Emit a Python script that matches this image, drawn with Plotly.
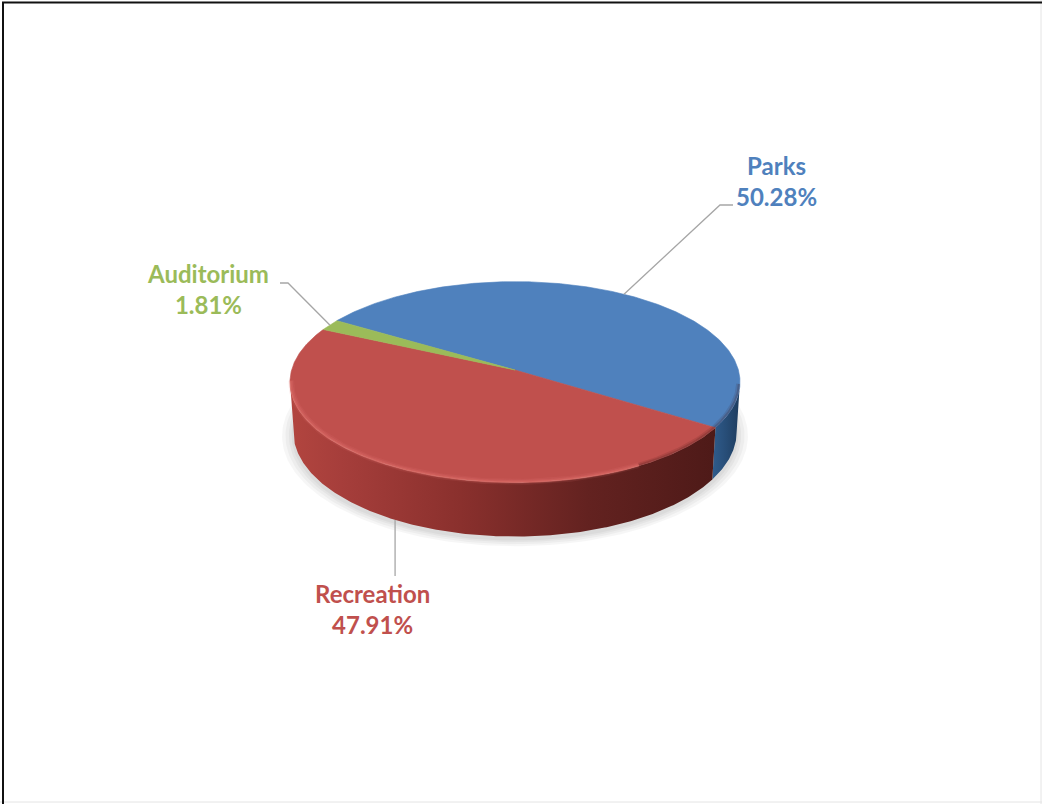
import numpy as np
import plotly.graph_objects as go

# ---- data -------------------------------------------------------------
categories = ["Parks", "Recreation", "Auditorium"]
shares = [50.28, 47.91, 1.81]
top_colors = ["#4F81BD", "#C0504D", "#9BBB59"]
label_colors = ["#4F81BD", "#C0504D", "#9BBB59"]

# ---- 3-D pie geometry (perspective view of a tilted disc) -------------
CX, CY = 515.0, 370.0          # projected pie centre (px)
SIN_E = 0.443                   # sine of the viewing elevation
COS_E = np.sqrt(1 - SIN_E ** 2)
PERSP = 0.12                    # perspective strength
DIST = COS_E / PERSP            # camera distance (radius = 1)
FOCAL = 223.4 * DIST
THICK = 0.25                    # disc thickness (radius units)
START = 302.0                   # first slice angle, clockwise from 12 o'clock


def project(t_deg, level=0.0, r=1.0):
    """Project a point of the disc (angle t, height level 0=top 1=bottom)."""
    t = np.radians(np.asarray(t_deg, dtype=float))
    h = THICK * level
    depth = DIST + h * SIN_E + r * COS_E * np.cos(t)
    up = -h * COS_E + r * SIN_E * np.cos(t)
    return CX + FOCAL * r * np.sin(t) / depth, CY - FOCAL * up / depth


# slice angle ranges
total = sum(shares)
bounds = []
a = START
for v in shares:
    span = 360.0 * v / total
    bounds.append((a, a + span))
    a += span

# front-facing part of the cylinder wall (slightly widened to meet the rim)
t_front = np.degrees(np.arccos(-1.0 / (DIST * COS_E))) - 2.0
vis_lo, vis_hi = t_front, 360.0 - t_front


def visible_pieces(a0, a1):
    out = []
    for k in (-1, 0, 1, 2):
        lo, hi = vis_lo + 360 * k, vis_hi + 360 * k
        s, e = max(a0, lo), min(a1, hi)
        if e > s:
            out.append((s, e))
    return out


fig = go.Figure()

# soft shadow under the disc
for rr in [1.05, 1.035, 1.02, 1.008]:
    ts = np.linspace(0, 360, 241)
    sx, sy = project(ts, level=1.0, r=rr)
    fig.add_trace(go.Scatter(
        x=sx, y=sy + 3, mode="lines", fill="toself",
        fillcolor="rgba(0,0,0,0.035)", line=dict(width=0),
        hoverinfo="skip", showlegend=False))

# side walls
wall_scales = {
    "Parks": [[0, "#305C8C"], [0.5, "#274D77"], [1, "#1E3C5E"]],
    "Recreation": [[0, "#B2453F"], [0.12, "#A63E3B"], [0.4, "#8A302D"],
                   [0.7, "#632220"], [1, "#4E1A18"]],
    "Auditorium": [[0, "#7E9A45"], [1, "#5F7433"]],
}
for name, (a0, a1) in zip(categories, bounds):
    for s, e in visible_pieces(a0, a1):
        ts = np.linspace(s, e, max(int((e - s) * 2), 4))
        xt, yt = project(ts, 0.0)
        xb, yb = project(ts[::-1], 1.0)
        fig.add_trace(go.Scatter(
            x=np.concatenate([xt, xb]), y=np.concatenate([yt, yb]),
            mode="lines", fill="toself",
            fillgradient=dict(type="horizontal", colorscale=wall_scales[name]),
            line=dict(width=0), hoverinfo="skip", showlegend=False))

# top faces
for name, col, (a0, a1) in zip(categories, top_colors, bounds):
    ts = np.linspace(a0, a1, max(int((a1 - a0) * 2), 4))
    xr, yr = project(ts, 0.0)
    fig.add_trace(go.Scatter(
        x=np.concatenate([[CX], xr, [CX]]), y=np.concatenate([[CY], yr, [CY]]),
        mode="lines", fill="toself", fillcolor=col,
        line=dict(width=0.6, color=col), hoverinfo="skip", showlegend=False))

# soft bevel highlight along the near rim
ts = np.linspace(150, 264, 140)
for rr, w, op in [(0.995, 6, 0.10), (0.995, 3.5, 0.16), (0.998, 1.8, 0.22)]:
    hx, hy = project(ts, 0.0, r=rr)
    fig.add_trace(go.Scatter(x=hx, y=hy, mode="lines",
                             line=dict(color=f"rgba(240,130,124,{op})", width=w),
                             hoverinfo="skip", showlegend=False))
ts = np.linspace(98, 150, 60)
for rr, w, op in [(0.992, 4, 0.12), (0.995, 2, 0.2)]:
    hx, hy = project(ts, 0.0, r=rr)
    fig.add_trace(go.Scatter(x=hx, y=hy, mode="lines",
                             line=dict(color=f"rgba(60,20,20,{op})", width=w),
                             hoverinfo="skip", showlegend=False))

# ---- data labels with leader lines -----------------------------------
label_pos = {"Parks": (776, 181), "Recreation": (372, 609), "Auditorium": (208, 289)}
elbows = {"Parks": [(733, 205), (720, 205)],
          "Auditorium": [(280, 283), (288, 283)]}
for name, val, col, (a0, a1) in zip(categories, shares, label_colors, bounds):
    mid = (a0 + a1) / 2
    level = 1.0 if np.cos(np.radians(mid)) < -0.5 else 0.0
    ax_, ay_ = project(mid, level)
    if name == "Recreation":
        pts = [(float(ax_), 576), (float(ax_), float(ay_))]
    else:
        pts = elbows[name] + [(float(ax_), float(ay_))]
    fig.add_trace(go.Scatter(
        x=[p[0] for p in pts], y=[p[1] for p in pts], mode="lines",
        line=dict(color="#A6A6A6", width=1.3), hoverinfo="skip",
        showlegend=False))
    lx, ly = label_pos[name]
    fig.add_annotation(
        x=lx, y=ly, xref="x", yref="y", showarrow=False,
        text=f"<b>{name}<br>{val:.2f}%</b>", align="center",
        font=dict(family="Lato", size=24, color=col),
        xanchor="center", yanchor="middle")

# ---- chart frame ------------------------------------------------------
frame = [
    dict(x0=1041, x1=1041, y0=0, y1=804, color="#E4E4E4", w=1),
    dict(x0=0, x1=1042, y0=802, y1=802, color="#E4E4E4", w=1),
    dict(x0=2, x1=1042, y0=2.5, y1=2.5, color="#111111", w=2),
    dict(x0=3, x1=3, y0=2, y1=804, color="#111111", w=2),
]
for f in frame:
    fig.add_shape(type="line", xref="x", yref="y", x0=f["x0"], x1=f["x1"],
                  y0=f["y0"], y1=f["y1"], line=dict(color=f["color"], width=f["w"]))

fig.update_layout(
    width=1042, height=804,
    margin=dict(l=0, r=0, t=0, b=0),
    paper_bgcolor="white", plot_bgcolor="white",
    xaxis=dict(range=[0, 1042], visible=False, fixedrange=True),
    yaxis=dict(range=[804, 0], visible=False, fixedrange=True),
    showlegend=False,
)

fig.write_html("out.html", config={"displayModeBar": False})
